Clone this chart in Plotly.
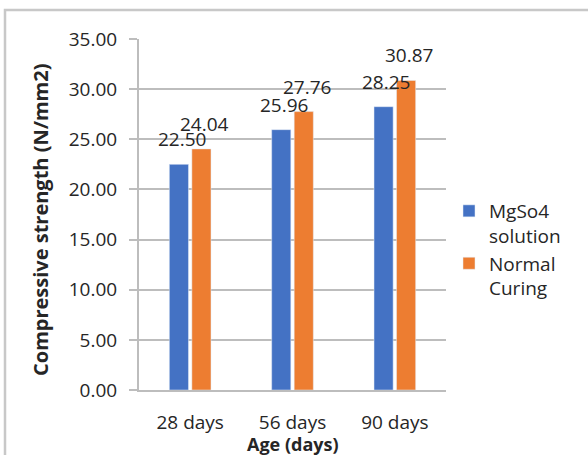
import plotly.graph_objects as go

# Compressive strength of specimens by curing age
ages = ["28 days", "56 days", "90 days"]
mgso4 = [22.50, 25.96, 28.25]
normal = [24.04, 27.76, 30.87]
series_names = ["MgSo4<br>solution", "Normal<br>Curing"]
y_ticks = [0, 5, 10, 15, 20, 25, 30, 35]

BLUE = "#4472C4"
ORANGE = "#ED7D31"
GRID = "#bdbdbd"
TEXT = "#262626"
FONT = "Open Sans"

W, H = 588, 455
L, R, T, B = 139, 142, 39, 65
PW, PH = W - L - R, H - T - B


def px_x(px):
    return (px - L) / PW


def px_y(py):
    return (H - B - py) / PH


fig = go.Figure()
fig.add_trace(go.Bar(name=series_names[0], x=ages, y=mgso4, marker_color=BLUE))
fig.add_trace(go.Bar(name=series_names[1], x=ages, y=normal, marker_color=ORANGE))

# value labels above each bar
annotations = []
for vals, dx in ((mgso4, -8.5), (normal, 14)):
    for a, v in zip(ages, vals):
        annotations.append(dict(
            x=a, y=v, xref="x", yref="y", text=f"{v:.2f}", showarrow=False,
            xshift=dx, yshift=25, yanchor="middle", xanchor="center",
            font=dict(family=FONT, size=19, color=TEXT),
        ))

# axis titles
annotations.append(dict(
    x=0.5, y=px_y(444), xref="paper", yref="paper", text="<b>Age (days)</b>",
    showarrow=False, xanchor="center", yanchor="middle",
    font=dict(family=FONT, size=18, color=TEXT),
))
annotations.append(dict(
    x=px_x(40), y=px_y(220), xref="paper", yref="paper",
    text="<b>Compressive strength (N/mm2)</b>", textangle=-90,
    showarrow=False, xanchor="center", yanchor="middle",
    font=dict(family=FONT, size=20, color=TEXT),
))

fig.update_layout(
    width=W, height=H,
    margin=dict(l=L, r=R, t=T, b=B, pad=0, autoexpand=False),
    paper_bgcolor="white", plot_bgcolor="white",
    barmode="group", bargap=0.56, bargroupgap=0.15,
    font=dict(family=FONT, size=19, color=TEXT),
    annotations=annotations,
    legend=dict(
        x=px_x(449), xanchor="left", y=px_y(192), yanchor="top",
        font=dict(family=FONT, size=19, color=TEXT),
        valign="top", tracegroupgap=12, bgcolor="rgba(0,0,0,0)",
    ),
    shapes=[dict(
        type="rect", xref="paper", yref="paper",
        x0=px_x(5), x1=px_x(620), y0=px_y(480), y1=px_y(10),
        line=dict(color="#c8c8c8", width=2.5), fillcolor="rgba(0,0,0,0)",
        layer="below",
    )],
)

fig.update_yaxes(
    range=[0, 35], tickvals=y_ticks, tickformat=".2f", automargin=False,
    showgrid=True, gridcolor=GRID, gridwidth=2,
    showline=True, linecolor=GRID, linewidth=2,
    ticks="outside", ticklen=8, tickcolor=GRID, tickwidth=2,
    ticklabelstandoff=8, zeroline=False,
)
fig.update_xaxes(
    showline=True, linecolor=GRID, linewidth=2, ticks="", automargin=False,
    ticklabelstandoff=14,
)

fig.write_html("out.html")
